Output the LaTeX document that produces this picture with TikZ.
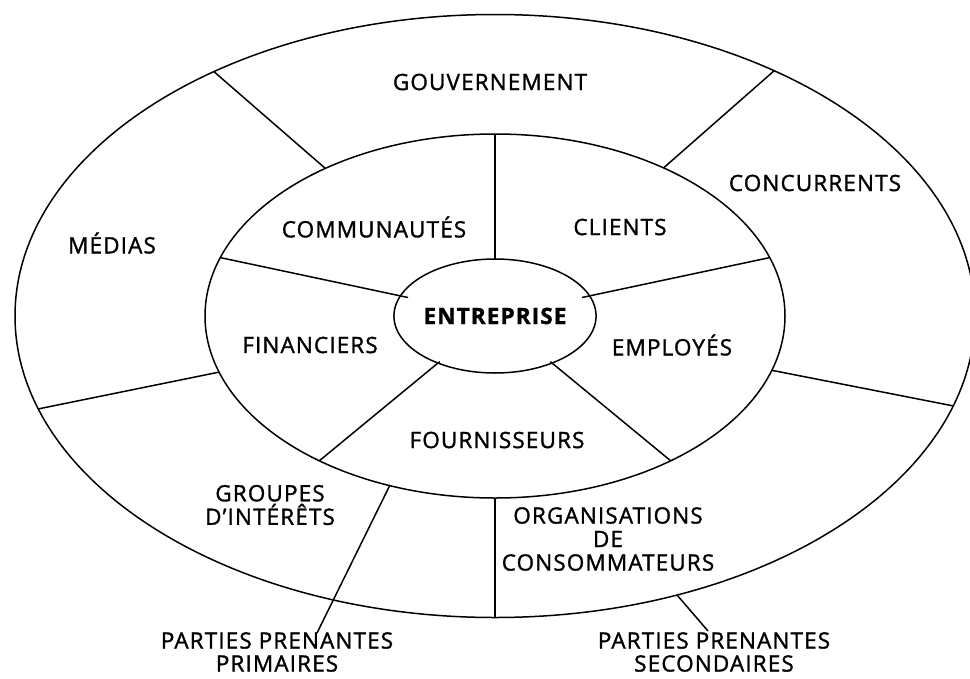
\documentclass[tikz,border=0pt]{standalone}
\usepackage{fontspec}
\setmainfont{Open Sans}[LetterSpace=5, RawFeature={embolden=1.3}]
\usetikzlibrary{shapes.geometric}
\begin{document}
\begin{tikzpicture}[x=1pt,y=-1pt,
  ring/.style={draw=black, line width=1.5pt},
  divider/.style={draw=black, line width=1.5pt},
  lbl/.style={font=\fontsize{22.5}{23.5}\selectfont, align=center, inner sep=0pt},
  caption/.style={font=\fontsize{22.5}{23}\selectfont, align=center, inner sep=0pt},
  core/.style={draw=black, line width=1.5pt, ellipse, minimum width=184pt,
    minimum height=114pt, inner sep=0pt, font=\fontsize{22.5}{22}\selectfont\bfseries}]
\useasboundingbox (0,0) rectangle (970,678);
\fill[white] (0,0) rectangle (970,678);
\clip (0,0) rectangle (970,678);

% rings
\draw[ring] (495,316) ellipse [x radius=480, y radius=301.5];
\draw[ring] (495,316) ellipse [x radius=290, y radius=182];
\node[core] (ent) at (495,316) {ENTREPRISE};

% end points of the inner dividers (core -> inner ring)
\coordinate (a1) at (495,259);   \coordinate (b1) at (495,134);
\coordinate (a2) at (408.0,297.5); \coordinate (b2) at (220.3,257.6);
\coordinate (a3) at (582.0,297.5); \coordinate (b3) at (769.7,257.6);
\coordinate (a4) at (439.7,361.6); \coordinate (b4) at (319.3,460.8);
\coordinate (a5) at (550.3,361.6); \coordinate (b5) at (670.7,460.8);
% end points of the outer dividers (inner ring -> outer ring)
\coordinate (c1) at (325.3,168.4); \coordinate (d1) at (213.9,71.6);
\coordinate (c2) at (663.6,167.9); \coordinate (d2) at (774.2,70.7);
\coordinate (c3) at (219.1,372.1); \coordinate (d3) at (38.4,408.9);
\coordinate (c4) at (771.8,370.3); \coordinate (d4) at (953.2,405.9);
\coordinate (c5) at (495,498);     \coordinate (d5) at (495,617.5);
% leader lines to the two captions
\coordinate (p1) at (390,485);     \coordinate (q1) at (317,633);
\coordinate (p2) at (677,595);     \coordinate (q2) at (708,631);

\foreach \s/\e in {a1/b1,a2/b2,a3/b3,a4/b4,a5/b5,c1/d1,c2/d2,c3/d3,c4/d4,c5/d5,p1/q1,p2/q2}
  \draw[divider] (\s) -- (\e);

% primary stakeholders
\node[lbl] (com) at (374,227) {COMMUNAUTÉS};
\node[lbl] (cli) at (620,227) {CLIENTS};
\node[lbl] (fin) at (310,345) {FINANCIERS};
\node[lbl] (emp) at (672,345) {EMPLOYÉS};
\node[lbl] (fou) at (497,440) {FOURNISSEURS};
% secondary stakeholders
\node[lbl] (gov) at (490,82) {GOUVERNEMENT};
\node[lbl] (conc) at (815,183) {CONCURRENTS};
\node[lbl] (med) at (112,243) {MÉDIAS};
\node[lbl] (grp) at (270,505) {GROUPES\\D’INTÉRÊTS};
\node[lbl] (org) at (608,539) {ORGANISATIONS\\DE\\CONSOMMATEURS};
% captions
\node[caption] (prim) at (277,652) {PARTIES PRENANTES\\PRIMAIRES};
\node[caption] (sec) at (714,652) {PARTIES PRENANTES\\SECONDAIRES};
\end{tikzpicture}
\end{document}
